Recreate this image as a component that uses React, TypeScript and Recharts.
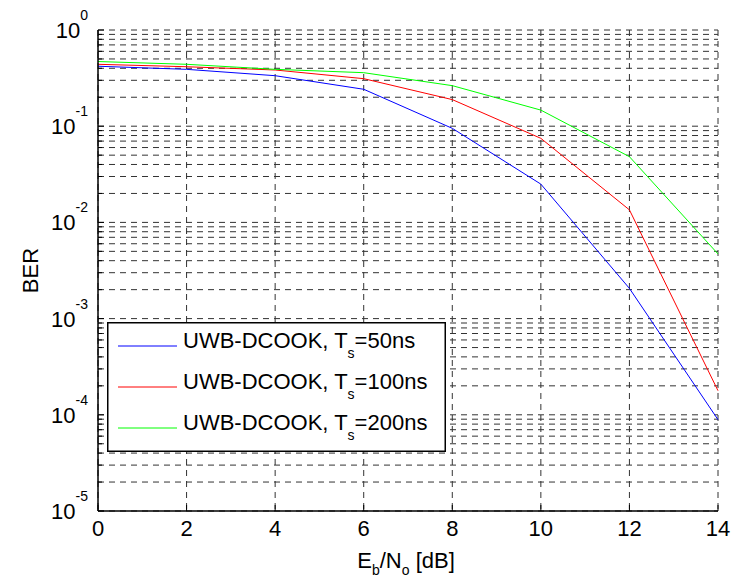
import { LineChart, Line, XAxis, YAxis, CartesianGrid, Legend, Label } from 'recharts'

// Eb/No in dB
const ebno = [0, 2, 4, 6, 8, 10, 12, 14]
const ber50 = [0.42, 0.39, 0.335, 0.242, 0.095, 0.025, 0.00206, 0.000089]
const ber100 = [0.44, 0.415, 0.384, 0.312, 0.189, 0.0748, 0.0135, 0.000178]
const ber200 = [0.47, 0.44, 0.39, 0.36, 0.264, 0.147, 0.0482, 0.0047]

const xTicks = [0, 2, 4, 6, 8, 10, 12, 14]
const decades = [1e-5, 1e-4, 1e-3, 1e-2, 1e-1, 1]
const decadeExp = ['-5', '-4', '-3', '-2', '-1', '0']
const minorMult = [2, 3, 4, 5, 6, 7, 8, 9]

const series = [
  { key: 'ts50', ts: '50ns', color: '#0000ff', values: ber50 },
  { key: 'ts100', ts: '100ns', color: '#ff0000', values: ber100 },
  { key: 'ts200', ts: '200ns', color: '#00ff00', values: ber200 },
]

const data = ebno.map((x, i) => {
  const row: Record<string, number> = { x }
  series.forEach((s) => (row[s.key] = s.values[i]))
  return row
})

const yTicks: number[] = []
decades.forEach((d, i) => {
  yTicks.push(d)
  if (i < decades.length - 1) minorMult.forEach((m) => yTicks.push(+(d * m).toPrecision(3)))
})

const FONT = 'Liberation Sans, Arial, sans-serif'
const FS = 22
const FS_SMALL = 14

const isDecade = (v: number) => decades.some((d) => Math.abs(v / d - 1) < 1e-6)

const makeYTick = (side: 'left' | 'right') => (props: any) => {
  const { x, y, payload } = props
  const v = payload.value
  const major = isDecade(v)
  const len = major ? 6 : 4
  const dir = side === 'left' ? 1 : -1
  const idx = decades.findIndex((d) => Math.abs(v / d - 1) < 1e-6)
  return (
    <g>
      <line x1={x} x2={x + dir * len} y1={y} y2={y} stroke="#000" strokeWidth={1} />
      {side === 'left' && major && (
        <text x={x - 10} y={y + 8} textAnchor="end" fontFamily={FONT} fontSize={FS} fill="#000">
          10
          <tspan dy={-18} fontSize={FS_SMALL}>{decadeExp[idx]}</tspan>
        </text>
      )}
    </g>
  )
}

const makeXTick = (side: 'bottom' | 'top') => (props: any) => {
  const { x, y, payload } = props
  const dir = side === 'bottom' ? -1 : 1
  return (
    <g>
      <line x1={x} x2={x} y1={y} y2={y + dir * 6} stroke="#000" strokeWidth={1} />
      {side === 'bottom' && (
        <text x={x} y={y + 25} textAnchor="middle" fontFamily={FONT} fontSize={FS} fill="#000">
          {payload.value}
        </text>
      )}
    </g>
  )
}

const LegendBox = () => (
  <svg width={339} height={130} style={{ display: 'block' }}>
    <rect x={0.75} y={0.75} width={337.5} height={128.5} fill="#fff" stroke="#000" strokeWidth={1.5} />
    {series.map((s, i) => {
      const ly = 24 + i * 41
      return (
        <g key={s.key}>
          <line x1={11} x2={70} y1={ly} y2={ly} stroke={s.color} strokeWidth={1} />
          <text x={76} y={ly + 2} fontFamily={FONT} fontSize={FS} fill="#000">
            UWB-DCOOK, T
            <tspan dy={10} fontSize={FS_SMALL}>s</tspan>
            <tspan dy={-10}>={s.ts}</tspan>
          </text>
        </g>
      )
    })}
  </svg>
)

const axisLine = { stroke: '#000', strokeWidth: 1.5 }

export default function App() {
  return (
    <div style={{ position: 'absolute', left: 0, top: 0, background: '#fff' }}>
      <LineChart width={735} height={577} data={data} margin={{ top: 30, right: 17, bottom: 0, left: 0 }}>
        <CartesianGrid stroke="#333" strokeDasharray="6 5" strokeWidth={1} />
        <XAxis
          dataKey="x"
          type="number"
          domain={[0, 14]}
          ticks={xTicks}
          height={66}
          tickSize={0}
          tickMargin={0}
          tickLine={false}
          axisLine={axisLine}
          tick={makeXTick('bottom')}
          interval={0}
        >
          <Label
            content={(p: any) => {
              const vb = p.viewBox
              return (
                <text x={vb.x + vb.width / 2 - 2} y={vb.y + 57} textAnchor="middle" fontFamily={FONT} fontSize={FS} fill="#000">
                  E<tspan dy={7} fontSize={FS_SMALL}>b</tspan>
                  <tspan dy={-7}>/N</tspan>
                  <tspan dy={7} fontSize={FS_SMALL}>o</tspan>
                  <tspan dy={-7}> [dB]</tspan>
                </text>
              )
            }}
          />
        </XAxis>
        <XAxis
          xAxisId="top"
          orientation="top"
          dataKey="x"
          type="number"
          domain={[0, 14]}
          ticks={xTicks}
          height={0}
          tickSize={0}
          tickMargin={0}
          tickLine={false}
          axisLine={axisLine}
          tick={makeXTick('top')}
          interval={0}
        />
        <YAxis
          type="number"
          scale="log"
          domain={[1e-5, 1]}
          allowDataOverflow
          ticks={yTicks}
          width={98}
          tickSize={0}
          tickMargin={0}
          tickLine={false}
          axisLine={axisLine}
          tick={makeYTick('left')}
          interval={0}
        >
          <Label
            content={(p: any) => {
              const vb = p.viewBox
              const cy = vb.y + vb.height / 2
              return (
                <text x={30} y={cy} transform={`rotate(-90 30 ${cy})`} textAnchor="middle" dominantBaseline="central" fontFamily={FONT} fontSize={FS} fill="#000">
                  BER
                </text>
              )
            }}
          />
        </YAxis>
        <YAxis
          yAxisId="right"
          orientation="right"
          type="number"
          scale="log"
          domain={[1e-5, 1]}
          allowDataOverflow
          ticks={yTicks}
          width={0}
          tickSize={0}
          tickMargin={0}
          tickLine={false}
          axisLine={axisLine}
          tick={makeYTick('right')}
          interval={0}
        />
        {series.map((s) => (
          <Line
            key={s.key}
            dataKey={s.key}
            stroke={s.color}
            strokeWidth={1}
            dot={false}
            isAnimationActive={false}
          />
        ))}
        <Legend
          layout="horizontal"
          verticalAlign="middle"
          align="center"
          content={() => <LegendBox />}
          wrapperStyle={{ left: 107, top: 322, width: 339, height: 130 }}
        />
      </LineChart>
    </div>
  )
}
